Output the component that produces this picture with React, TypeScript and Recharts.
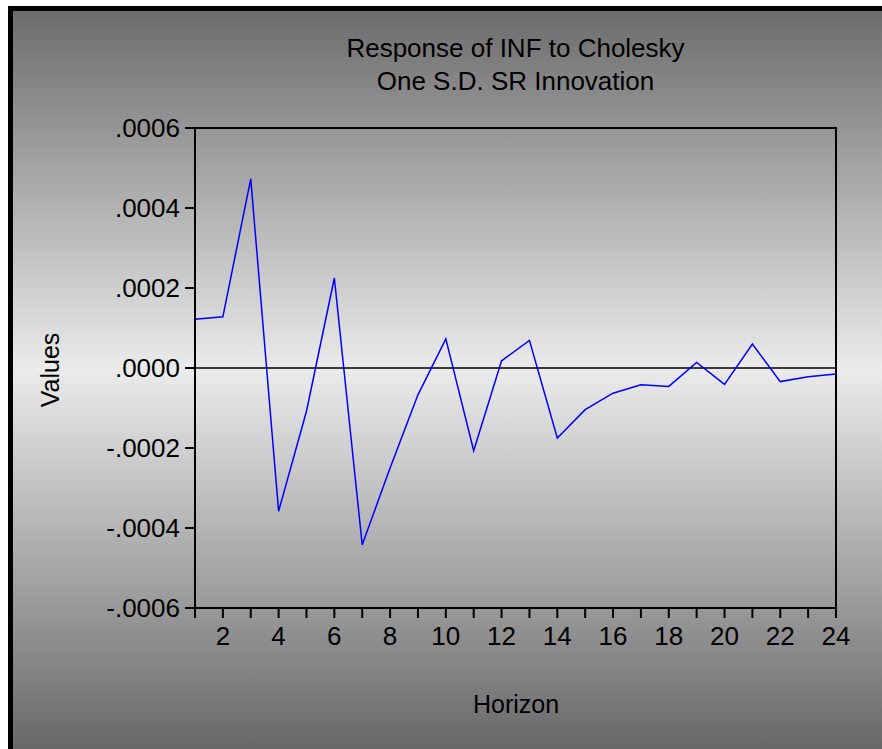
import React from "react"
import { LineChart, Line, XAxis, YAxis, ReferenceLine, ReferenceArea } from "recharts"

// impulse response, horizons 1..24
const horizon = [1, 2, 3, 4, 5, 6, 7, 8, 9, 10, 11, 12, 13, 14, 15, 16, 17, 18, 19, 20, 21, 22, 23, 24]
const response = [
  0.000122, 0.000128, 0.000473, -0.000358, -0.000108, 0.000225, -0.000442, -0.000250,
  -0.000067, 0.000073, -0.000207, 0.000018, 0.000069, -0.000175, -0.000104, -0.000063,
  -0.000042, -0.000046, 0.000014, -0.000041, 0.00006, -0.000034, -0.000022, -0.000015,
]

const xTicks = [1, 2, 3, 4, 5, 6, 7, 8, 9, 10, 11, 12, 13, 14, 15, 16, 17, 18, 19, 20, 21, 22, 23, 24]
const yTicks = [-0.0006, -0.0004, -0.0002, 0, 0.0002, 0.0004, 0.0006]
const yTickLabels = ["-.0006", "-.0004", "-.0002", ".0000", ".0002", ".0004", ".0006"]

const titleLines = ["Response of INF to Cholesky", "One S.D. SR Innovation"]

const data = horizon.map((h, i) => ({ h, v: response[i] }))

const font = "'Liberation Sans', Arial, sans-serif"

const yLabel = (v: number) => {
  const i = yTicks.findIndex((t) => Math.abs(t - v) < 1e-9)
  return i >= 0 ? yTickLabels[i] : ""
}

export default function App() {
  return (
    <div style={{ fontFamily: font, color: "#000" }}>
      <div
        style={{
          position: "absolute",
          left: 8,
          top: 6,
          width: 874,
          height: 743,
          boxSizing: "border-box",
          borderTop: "5px solid #000",
          borderLeft: "5px solid #000",
          background: "linear-gradient(to bottom, #6c6c6c 0%, #ebebeb 48.5%, #686868 100%)",
        }}
      />
      <div
        style={{
          position: "absolute",
          left: 195,
          top: 32,
          width: 641,
          textAlign: "center",
          fontSize: 26,
          lineHeight: "33px",
        }}
      >
        {titleLines.map((t) => (
          <div key={t}>{t}</div>
        ))}
      </div>
      <div
        style={{
          position: "absolute",
          left: 50,
          top: 370,
          fontSize: 25,
          transform: "translate(-50%, -50%) rotate(-90deg)",
          whiteSpace: "nowrap",
        }}
      >
        Values
      </div>
      <div
        style={{
          position: "absolute",
          left: 516,
          top: 704,
          fontSize: 25,
          transform: "translate(-50%, -50%)",
          whiteSpace: "nowrap",
        }}
      >
        Horizon
      </div>
      <div style={{ position: "absolute", left: 0, top: 0 }}>
        <LineChart
          width={882}
          height={749}
          data={data}
          margin={{ top: 128, right: 46, left: 100, bottom: 101 }}
        >
          <XAxis
            dataKey="h"
            type="number"
            domain={[1, 24]}
            ticks={xTicks}
            interval={0}
            height={40}
            tickSize={10}
            tickMargin={9}
            tickFormatter={(v: number) => (v % 2 === 0 ? String(v) : "")}
            axisLine={{ stroke: "#000", strokeWidth: 2 }}
            tickLine={{ stroke: "#000", strokeWidth: 2 }}
            tick={{ fill: "#000", fontSize: 26, fontFamily: font }}
          />
          <YAxis
            type="number"
            domain={[-0.0006, 0.0006]}
            ticks={yTicks}
            interval={0}
            width={95}
            tickSize={10}
            tickMargin={5}
            tickFormatter={yLabel}
            axisLine={{ stroke: "#000", strokeWidth: 2 }}
            tickLine={{ stroke: "#000", strokeWidth: 2 }}
            tick={{ fill: "#000", fontSize: 26, fontFamily: font }}
          />
          <ReferenceArea
            x1={1}
            x2={24}
            y1={-0.0006}
            y2={0.0006}
            fill="none"
            stroke="#000"
            strokeWidth={2}
          />
          <ReferenceLine y={0} stroke="#000" strokeWidth={1.5} />
          <Line
            dataKey="v"
            type="linear"
            stroke="#0000ff"
            strokeWidth={1.5}
            dot={false}
            isAnimationActive={false}
          />
        </LineChart>
      </div>
    </div>
  )
}
